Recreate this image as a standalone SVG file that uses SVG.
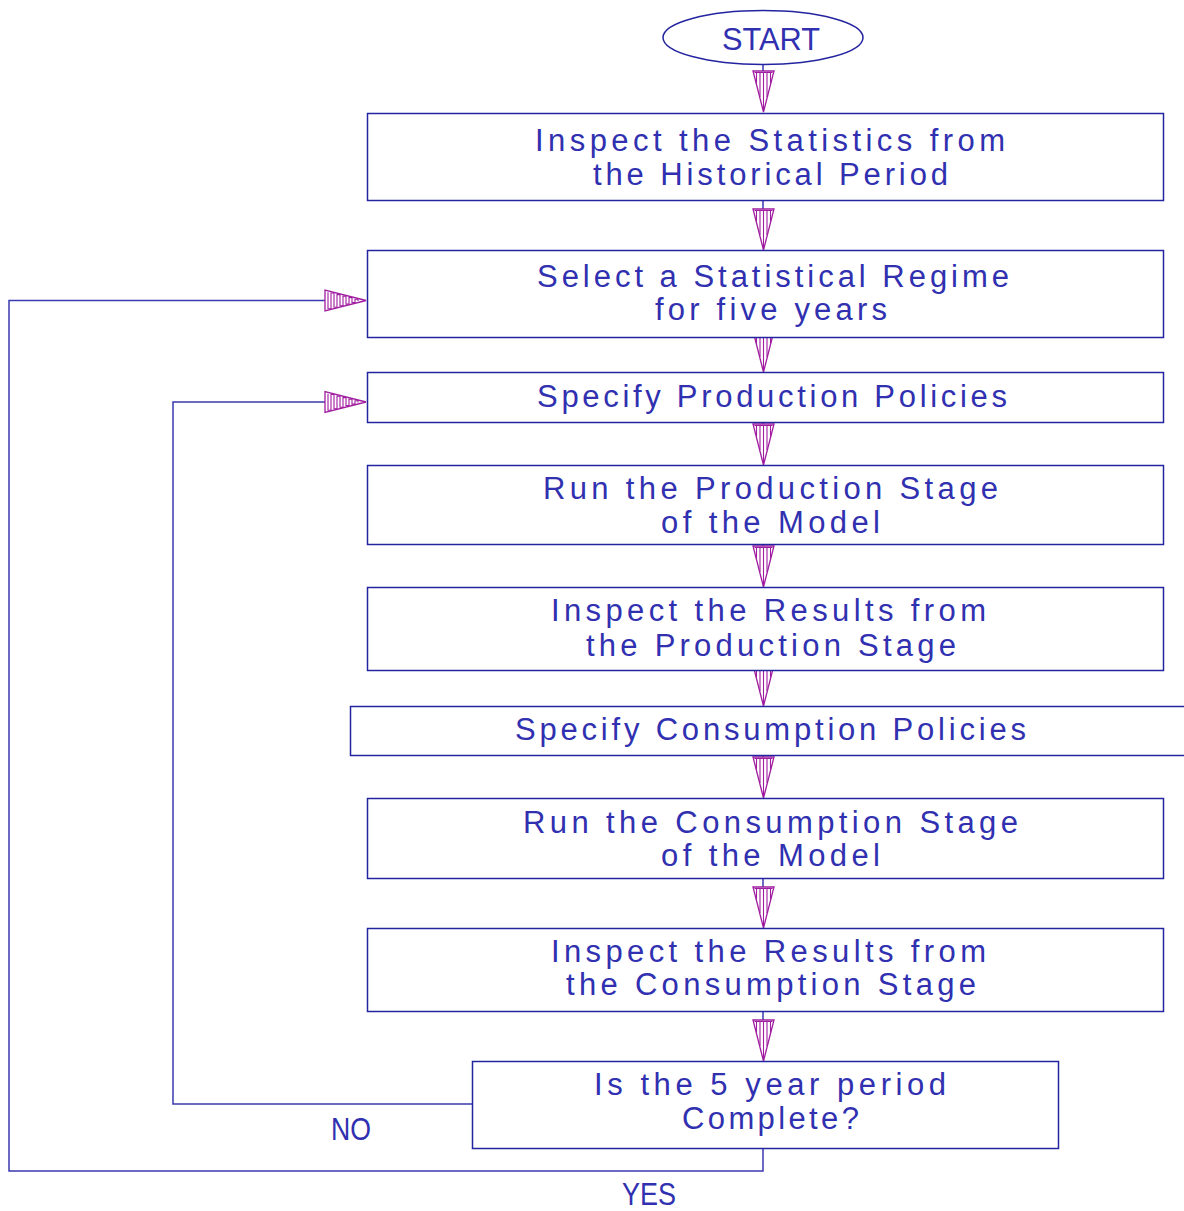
<svg xmlns="http://www.w3.org/2000/svg" xmlns:xlink="http://www.w3.org/1999/xlink" width="1184" height="1211" viewBox="0 0 1184 1211">
<style>
.box{fill:#fff;stroke:#2424a0;stroke-width:1.5}
.t{font-family:"Liberation Sans",Arial,sans-serif;font-size:31px;fill:#3030b0;text-anchor:middle}
.ln{fill:none;stroke:#3a3ab0;stroke-width:1.5}
.ar{fill:#fff;stroke:#a01ca0;stroke-width:1.3}
.ah{fill:none;stroke:#a01ca0;stroke-width:1.1}
</style>
<defs>
<g id="ad">
<path class="ar" d="M-10.5,-41 H10.5 L0,0 Z"/>
<path class="ah" d="M-7,-39.5V-28.5 M-3.5,-39.5V-15 M0,-39.5V-3 M3.5,-39.5V-15 M7,-39.5V-28.5 M-9,-39.5H9"/>
</g>
<g id="ar">
<path class="ar" d="M-41,-10.5 V10.5 L0,0 Z"/>
<path class="ah" d="M-38,-8.2 V8.2 H-35 V-7.5 H-32 V6.7 H-29 V-5.9 H-26 V5.2 H-23 V-4.4 H-20 V3.6 H-17 V-2.9 H-14 V2.1 H-11 V-1.3 H-8 V0.5"/>
</g>
</defs>

<g id="connectors">
<path class="ln" d="M763,64V72 M763,200V209 M763,422V424 M763,544V546 M763,755V757 M763,878V887 M763,1011V1020"/>
<path class="ln" d="M763,1148V1171H9V300.5H325"/>
<path class="ln" d="M472,1104H173V402H325"/>
<use href="#ad" x="763.5" y="112"/>
<use href="#ad" x="763.5" y="250"/>
<use href="#ad" x="763.5" y="372"/>
<use href="#ad" x="763.5" y="465"/>
<use href="#ad" x="763.5" y="587"/>
<use href="#ad" x="763.5" y="706"/>
<use href="#ad" x="763.5" y="798"/>
<use href="#ad" x="763.5" y="928"/>
<use href="#ad" x="763.5" y="1061"/>
<use href="#ar" x="366" y="300.5"/>
<use href="#ar" x="366" y="402"/>
<text class="t" x="351" y="1140" textLength="40" lengthAdjust="spacingAndGlyphs">NO</text>
<text class="t" x="649" y="1205" textLength="54" lengthAdjust="spacingAndGlyphs">YES</text>
</g>

<g id="start">
<ellipse cx="763" cy="37.5" rx="100" ry="27" fill="#fff" stroke="#2424a0" stroke-width="1.5"/>
<text class="t" x="771" y="50" textLength="98" lengthAdjust="spacingAndGlyphs">START</text>
</g>
<g id="n1">
<rect class="box" x="367.5" y="113.5" width="796" height="87"/>
<text class="t" x="770" y="151" textLength="470" lengthAdjust="spacing">Inspect the Statistics from</text>
<text class="t" x="770.5" y="185" textLength="355" lengthAdjust="spacing">the Historical Period</text>
</g>
<g id="n2">
<rect class="box" x="367.5" y="250.5" width="796" height="87"/>
<text class="t" x="773" y="287" textLength="472" lengthAdjust="spacing">Select a Statistical Regime</text>
<text class="t" x="771" y="320" textLength="232" lengthAdjust="spacing">for five years</text>
</g>
<g id="n3">
<rect class="box" x="367.5" y="372.5" width="796" height="50"/>
<text class="t" x="772" y="407" textLength="470" lengthAdjust="spacing">Specify Production Policies</text>
</g>
<g id="n4">
<rect class="box" x="367.5" y="465.5" width="796" height="79"/>
<text class="t" x="770.5" y="499" textLength="455" lengthAdjust="spacing">Run the Production Stage</text>
<text class="t" x="770.5" y="533" textLength="219" lengthAdjust="spacing">of the Model</text>
</g>
<g id="n5">
<rect class="box" x="367.5" y="587.5" width="796" height="83"/>
<text class="t" x="768.5" y="621" textLength="435" lengthAdjust="spacing">Inspect the Results from</text>
<text class="t" x="771" y="656" textLength="370" lengthAdjust="spacing">the Production Stage</text>
</g>
<g id="n6">
<rect class="box" x="350.5" y="706.5" width="840" height="49"/>
<text class="t" x="770.5" y="740" textLength="511" lengthAdjust="spacing">Specify Consumption Policies</text>
</g>
<g id="n7">
<rect class="box" x="367.5" y="798.5" width="796" height="80"/>
<text class="t" x="770.5" y="833" textLength="495" lengthAdjust="spacing">Run the Consumption Stage</text>
<text class="t" x="770.5" y="866" textLength="219" lengthAdjust="spacing">of the Model</text>
</g>
<g id="n8">
<rect class="box" x="367.5" y="928.5" width="796" height="83"/>
<text class="t" x="768.5" y="962" textLength="435" lengthAdjust="spacing">Inspect the Results from</text>
<text class="t" x="771" y="995" textLength="410" lengthAdjust="spacing">the Consumption Stage</text>
</g>
<g id="n9">
<rect class="box" x="472.5" y="1061.5" width="586" height="87"/>
<text class="t" x="770" y="1095" textLength="352" lengthAdjust="spacing">Is the 5 year period</text>
<text class="t" x="770.5" y="1129" textLength="177" lengthAdjust="spacing">Complete?</text>
</g>
</svg>
